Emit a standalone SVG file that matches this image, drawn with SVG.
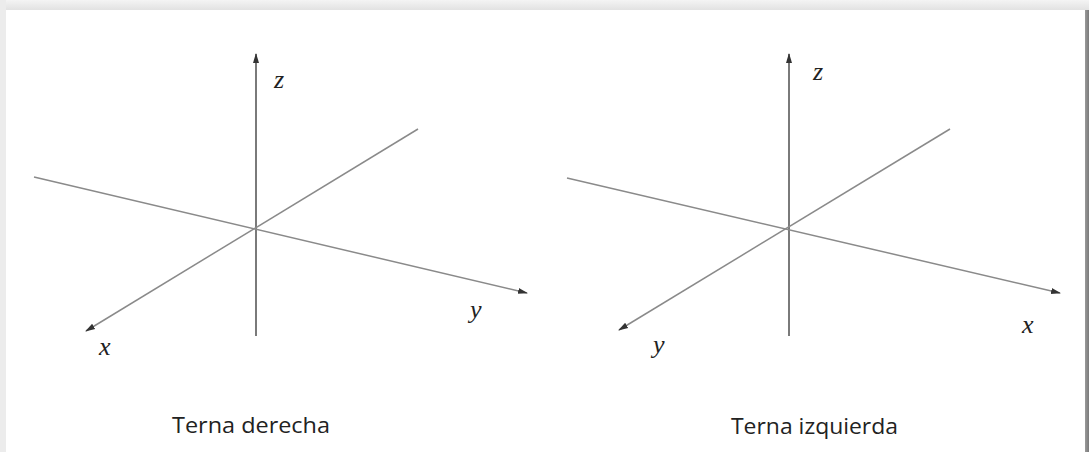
<svg xmlns="http://www.w3.org/2000/svg" width="1089" height="452" viewBox="0 0 1089 452">
<defs>
<linearGradient id="topShadow" x1="0" y1="0" x2="0" y2="1">
<stop offset="0" stop-color="#f4f4f4"/><stop offset="1" stop-color="#e2e2e2"/>
</linearGradient>
<linearGradient id="rightShadow" x1="0" y1="0" x2="1" y2="0">
<stop offset="0" stop-color="#9a9a9a"/><stop offset="1" stop-color="#7a7a7a"/>
</linearGradient>
<marker id="ah" markerWidth="10" markerHeight="8" refX="9" refY="4" orient="auto" markerUnits="userSpaceOnUse">
<path d="M0,1 L10,4 L0,7 Z" fill="#333"/>
</marker>
</defs>
<style>
.ax{stroke:#8a8a8a;stroke-width:1.5;fill:none}
.zax{stroke:#7a7a7a;stroke-width:2;fill:none}
.lbl{font-family:"Liberation Serif",serif;font-style:italic;font-size:26px;fill:#222}
.cap{font-family:"Open Sans","Liberation Sans",sans-serif;font-size:21px;fill:#222}
</style>
<rect x="0" y="0" width="1089" height="452" fill="#ffffff"/>
<rect x="0" y="0" width="1089" height="10" fill="url(#topShadow)"/>
<rect x="0" y="0" width="6" height="452" fill="#ececec"/>
<rect x="1085" y="10" width="4" height="442" fill="url(#rightShadow)"/>
<rect x="6" y="10" width="1079" height="442" fill="#ffffff"/>
<g id="connectors">
<line class="zax" x1="256" y1="336" x2="256" y2="54" marker-end="url(#ah)"/>
<line class="ax" x1="34" y1="177" x2="527" y2="293" marker-end="url(#ah)"/>
<line class="ax" x1="418" y1="129" x2="86" y2="331" marker-end="url(#ah)"/>
<line class="zax" x1="789" y1="336" x2="789" y2="54" marker-end="url(#ah)"/>
<line class="ax" x1="567" y1="178" x2="1060" y2="293" marker-end="url(#ah)"/>
<line class="ax" x1="950" y1="129" x2="619" y2="330" marker-end="url(#ah)"/>
</g>
<g id="left-triad">
<text class="lbl" x="274" y="88">z</text>
<text class="lbl" x="99" y="355">x</text>
<text class="lbl" x="470" y="318">y</text>
<text class="cap" x="172" y="433" textLength="158" lengthAdjust="spacingAndGlyphs">Terna derecha</text>
</g>
<g id="right-triad">
<text class="lbl" x="813" y="80">z</text>
<text class="lbl" x="653" y="353">y</text>
<text class="lbl" x="1022" y="333">x</text>
<text class="cap" x="731" y="434" textLength="167" lengthAdjust="spacingAndGlyphs">Terna izquierda</text>
</g>
</svg>
